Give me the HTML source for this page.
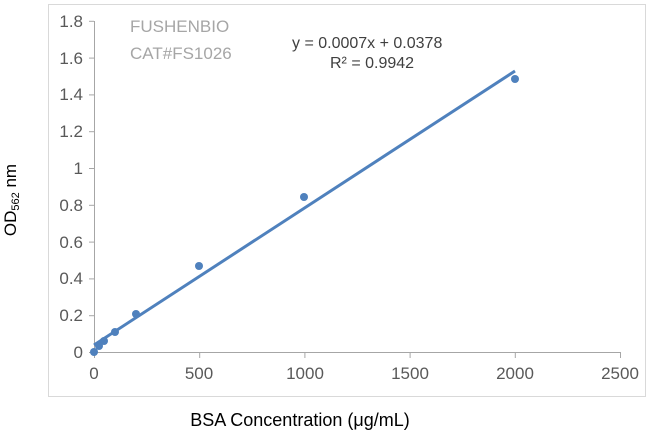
<!DOCTYPE html>
<html><head><style>body{margin:0;background:#fff}</style></head><body>
<svg width="653" height="435" xmlns="http://www.w3.org/2000/svg" font-family="Liberation Sans, sans-serif">
<rect x="48.5" y="4.5" width="597" height="392" fill="#fff" stroke="#d9d9d9"/>
<g stroke="#a6a6a6" stroke-width="1">
<line x1="94.5" y1="21" x2="94.5" y2="352"/>
<line x1="94" y1="352.5" x2="620" y2="352.5"/>
<line x1="89" y1="352.5" x2="94" y2="352.5"/><line x1="89" y1="315.7" x2="94" y2="315.7"/><line x1="89" y1="278.9" x2="94" y2="278.9"/><line x1="89" y1="242.1" x2="94" y2="242.1"/><line x1="89" y1="205.3" x2="94" y2="205.3"/><line x1="89" y1="168.5" x2="94" y2="168.5"/><line x1="89" y1="131.7" x2="94" y2="131.7"/><line x1="89" y1="94.9" x2="94" y2="94.9"/><line x1="89" y1="58.1" x2="94" y2="58.1"/><line x1="89" y1="21.3" x2="94" y2="21.3"/>
<line x1="94.5" y1="352" x2="94.5" y2="358"/><line x1="199.7" y1="352" x2="199.7" y2="358"/><line x1="304.9" y1="352" x2="304.9" y2="358"/><line x1="410.1" y1="352" x2="410.1" y2="358"/><line x1="515.3" y1="352" x2="515.3" y2="358"/><line x1="620.5" y1="352" x2="620.5" y2="358"/>
</g>
<g font-size="17" fill="#595959" text-anchor="end">
<text x="83" y="358">0</text><text x="83" y="321">0.2</text><text x="83" y="284">0.4</text><text x="83" y="248">0.6</text><text x="83" y="211">0.8</text><text x="83" y="174">1</text><text x="83" y="137">1.2</text><text x="83" y="100">1.4</text><text x="83" y="64">1.6</text><text x="83" y="27">1.8</text>
</g>
<g font-size="17" fill="#595959" text-anchor="middle">
<text x="94" y="379">0</text><text x="199" y="379">500</text><text x="305" y="379">1000</text><text x="410" y="379">1500</text><text x="515" y="379">2000</text><text x="620" y="379">2500</text>
</g>
<text x="130" y="32" font-size="17" fill="#a6a6a6">FUSHENBIO</text>
<text x="130" y="59" font-size="17" fill="#a6a6a6">CAT#FS1026</text>
<text x="292" y="48" font-size="16" fill="#404040">y = 0.0007x + 0.0378</text>
<text x="330" y="68" font-size="16" fill="#404040">R² = 0.9942</text>
<line x1="94" y1="345" x2="515" y2="71" stroke="#4f81bd" stroke-width="3"/>
<g fill="#4f81bd">
<circle cx="94" cy="352" r="4"/><circle cx="99" cy="346" r="4"/><circle cx="104" cy="341" r="4"/><circle cx="115" cy="332" r="4"/><circle cx="136" cy="314" r="4"/><circle cx="199" cy="266" r="4"/><circle cx="304" cy="197" r="4"/><circle cx="515" cy="79" r="4"/>
</g>
<text x="300" y="426" font-size="18" fill="#000" text-anchor="middle">BSA Concentration (μg/mL)</text>
<text transform="translate(16,200) rotate(-90)" font-size="17" fill="#000" text-anchor="middle">OD<tspan font-size="11" dy="3">562</tspan><tspan dy="-3"> nm</tspan></text>
</svg>
</body></html>
